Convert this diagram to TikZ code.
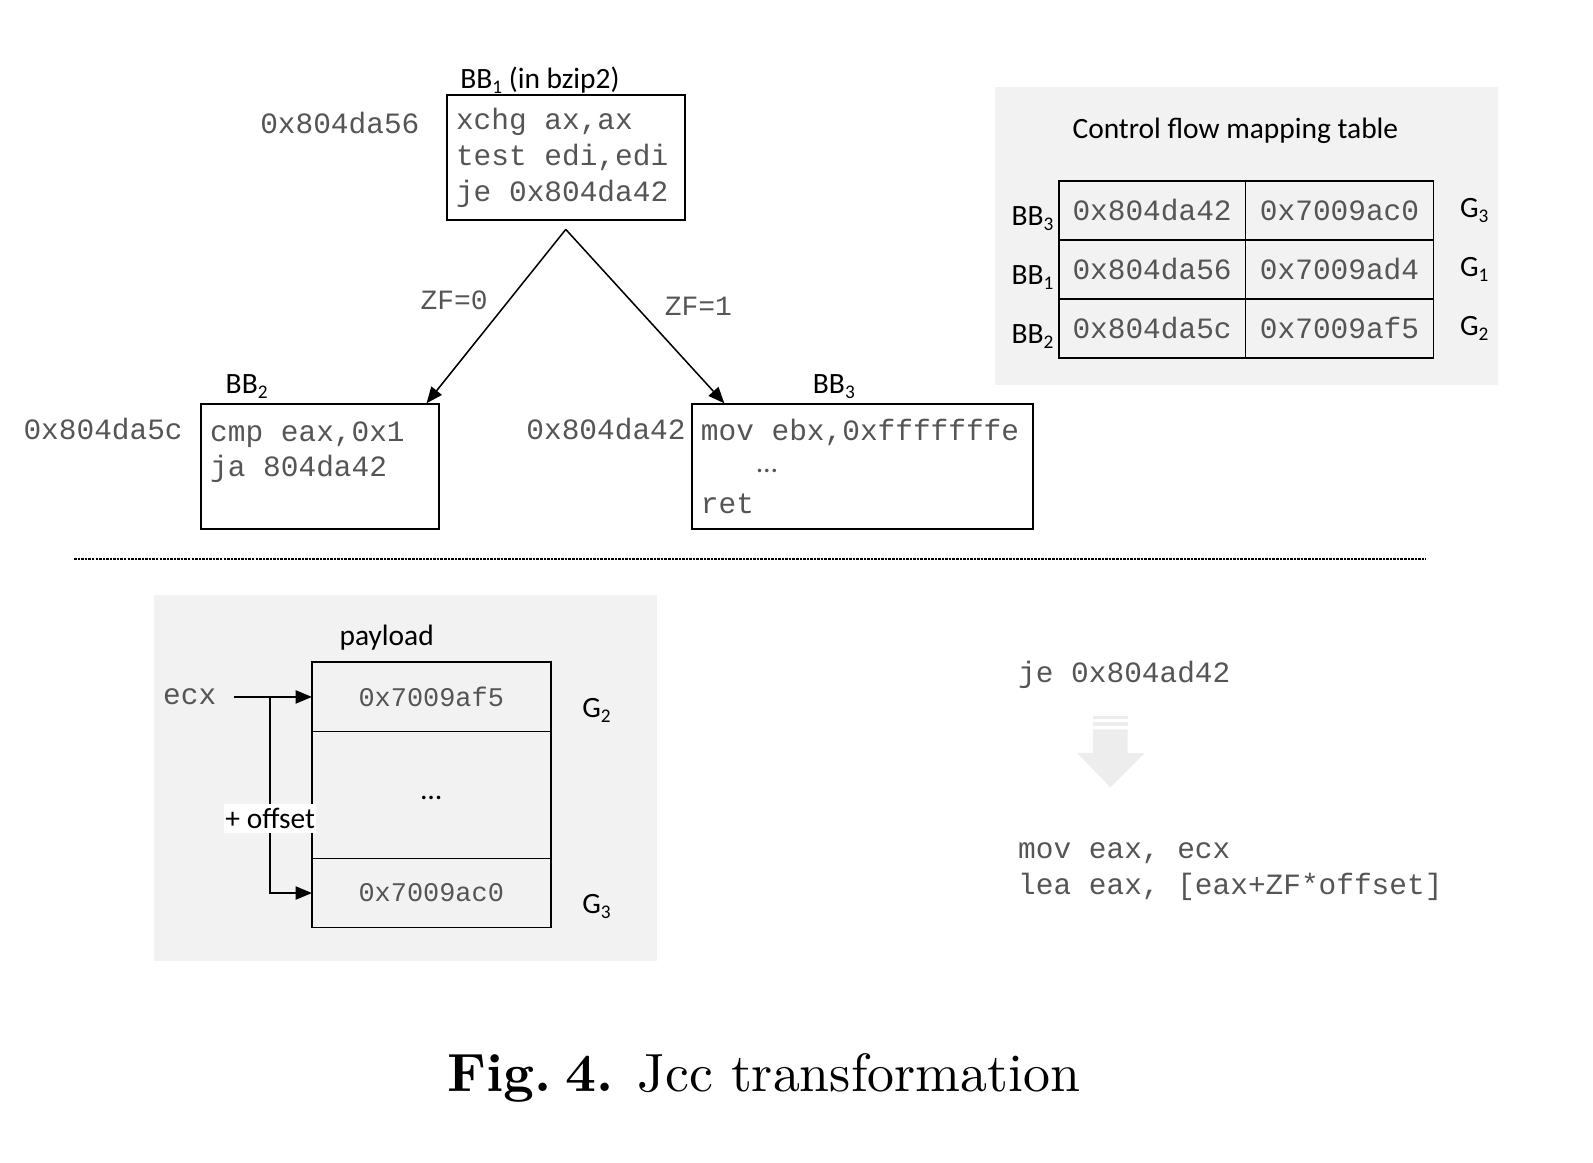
\documentclass[tikz,border=0pt]{standalone}
\usepackage{fontspec}
\setsansfont{Carlito}
\setmonofont{Liberation Mono}
\newfontfamily\cfcapfont[Extension=.otf,BoldFont=lmroman10-bold]{lmroman10-regular}
\usetikzlibrary{positioning,arrows.meta}
\definecolor{cfpanel}{HTML}{F2F2F2}
\definecolor{cfcode}{HTML}{555555}
\definecolor{cfshade}{HTML}{EDEDED}
\newcommand{\cfmono}{\fontsize{29}{35}\selectfont\ttfamily}
\newcommand{\cfsans}{\fontsize{29}{35}\selectfont\sffamily}
\newcommand{\cfws}{\spaceskip=17.4pt\relax\xspaceskip=17.4pt\relax}
\newcommand{\cfsub}[1]{\raisebox{-5pt}{\fontsize{19}{19}\selectfont#1}}
\newcommand{\cfbb}[1]{BB\cfsub{#1}}
\newcommand{\cfg}[1]{G\cfsub{#1}}

\begin{document}
\begin{tikzpicture}[x=1pt,y=-1pt,
  code/.style={draw,line width=1.8pt,align=left,anchor=north west,inner xsep=9pt,
    minimum height=123pt,font=\cfmono,text=cfcode},
  mono/.style={font=\cfmono,text=cfcode,inner sep=0pt},
  zf/.style={font=\fontsize{27.5}{33}\selectfont\ttfamily,text=cfcode,inner sep=0pt},
  lbl/.style={font=\cfsans,inner sep=0pt},
  cell/.style={draw,line width=1.8pt,outer sep=0pt,font=\cfmono,text=cfcode},
  arr/.style={line width=1.5pt,-{Triangle[length=16pt,width=13pt]}}]
  \useasboundingbox (0,0) rectangle (1568,1144);
  % basic blocks
  \node[code,text width=216pt] (bb1) at (439,93) {\cfws xchg ax,ax\\test edi,edi\\je 0x804da42};
  \node[code,text width=216pt] (bb2) at (197,397) {\cfws cmp eax,0x1\\ja 804da42\\~};
  \node[code,text width=318pt] (bb3) at (680,397) {\cfws mov ebx,0xfffffffe\\[-4pt]\hspace*{55pt}{\sffamily\ldots}\\[6pt]ret};
  \node[lbl,anchor=base west] (bb1l) at ([xshift=14pt,yshift=6pt]bb1.north west) {\cfbb{1} (in bzip2)};
  \node[lbl,anchor=base west] (bb2l) at ([xshift=25pt,yshift=10pt]bb2.north west) {\cfbb{2}};
  \node[lbl,anchor=base west] (bb3l) at ([xshift=120pt,yshift=10pt]bb3.north west) {\cfbb{3}};
  \node[mono,anchor=east] (a1) at (413,121) {0x804da56};
  \node[mono,anchor=east] (a2) at (180,422) {0x804da5c};
  \node[mono,anchor=east] (a3) at (675,422) {0x804da42};
  \coordinate (fork) at ([yshift=-8pt]bb1.south);
  \draw[arr] (fork) -- node[zf,pos=0.41,left=20pt] (zf0) {ZF=0} ([xshift=-13pt]bb2.north east);
  \draw[arr] (fork) -- node[zf,pos=0.44,right=28pt] (zf1) {ZF=1} ([xshift=33pt]bb3.north west);
  \draw[black,line width=1.6pt,dash pattern=on 2.5pt off 1pt] (73,550) -- (1404,550);
  % mapping table
  \fill[cfpanel] (979,86) rectangle (1474,379);
  \node[lbl] (cft) at (1216,129) {Control flow mapping table};
  \foreach \r/\y/\k/\src/\dst/\gi in {0/207/3/0x804da42/0x7009ac0/3,1/265/1/0x804da56/0x7009ad4/1,2/323/2/0x804da5c/0x7009af5/2}{
    \node[cell,minimum width=184pt,minimum height=58pt] (s\r) at (1134,\y) {\src};
    \node[cell,minimum width=185pt,minimum height=58pt,right=0pt of s\r] (d\r) {\dst};
    \node[lbl,anchor=east] (b\r) at ([xshift=-5pt,yshift=-8pt]s\r.west) {\cfbb{\k}};
    \node[lbl,anchor=west] (g\r) at ([xshift=26pt]d\r.east) {\cfg{\gi}};}
  % payload
  \fill[cfpanel] (152,586) rectangle (647,946);
  \node[cell,minimum width=235pt,minimum height=68pt,font=\fontsize{26.5}{32}\selectfont\ttfamily] (p1) at (424.5,686) {0x7009af5};
  \node[cell,minimum width=235pt,minimum height=125pt,font=\cfsans,text=black,below=0pt of p1] (p2) {\raisebox{-9pt}{\ldots}};
  \node[cell,minimum width=235pt,minimum height=68pt,font=\fontsize{26.5}{32}\selectfont\ttfamily,below=0pt of p2] (p3) {0x7009ac0};
  \node[lbl,anchor=base west] (pl) at ([xshift=27pt,yshift=17pt]p1.north west) {payload};
  \node[lbl,anchor=west] (pg1) at ([xshift=31pt,yshift=-13pt]p1.east) {\cfg{2}};
  \node[lbl,anchor=west] (pg2) at ([xshift=31pt,yshift=-13pt]p3.east) {\cfg{3}};
  \node[mono,anchor=east] (ecx) at (213,686) {ecx};
  \draw[arr] ([xshift=17pt]ecx.east) -- (p1.west);
  \coordinate (fork2) at ([xshift=-41pt]p1.west);
  \draw[arr] (fork2) |- node[lbl,pos=0.31,fill=white,inner xsep=1pt,inner ysep=4pt] (off) {+ offset} (p3.west);
  % rewritten jcc
  \node[mono,anchor=base west] (je) at (1002,672) {je 0x804ad42};
  \fill[cfshade] (1076,705) rectangle (1110,708);
  \fill[cfshade] (1076,711) rectangle (1110,715);
  \fill[cfshade] (1076,718) -- (1110,718) -- (1110,741) -- (1127,741) -- (1093,775) -- (1060,741) -- (1076,741) -- cycle;
  \node[mono,anchor=base west] (mov) at (1002,845) {mov eax, ecx};
  \node[mono,anchor=base west] (lea) at (1002,880) {lea eax, [eax+ZF*offset]};
  \node[font=\cfcapfont\fontsize{53}{62}\selectfont] (cap) at (752,1061) {\textbf{Fig.\hspace{0.25em}4.} Jcc transformation};
\end{tikzpicture}
\end{document}
